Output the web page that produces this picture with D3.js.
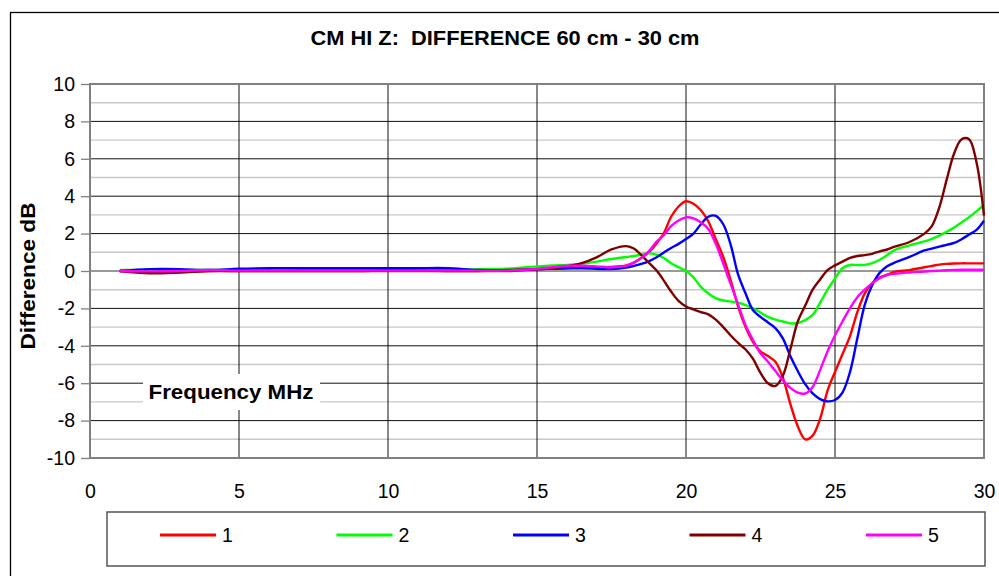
<!DOCTYPE html>
<html>
<head>
<meta charset="utf-8">
<script src="https://cdn.jsdelivr.net/npm/d3@7"></script>
<style>
  body { margin: 0; background: #fff; }
  svg { display: block; font-family: "Liberation Sans", Arial, sans-serif; }
</style>
</head>
<body>
<div id="chart"></div>
<script>
  // frequency points (MHz)
  const freq = [1,2,3,4,5,6,7,8,9,10,11,12,13,14,15,15.5,16,16.5,17,17.5,18,
    18.25,18.5,18.75,19,19.25,19.5,19.75,20,20.25,20.5,20.75,21,21.25,21.5,21.75,
    22,22.25,22.5,22.75,23,23.25,23.5,23.75,24,24.25,24.5,24.75,25,25.25,25.5,25.75,
    26,26.25,26.5,26.75,27,27.5,28,28.25,28.5,28.75,29,29.25,29.5,29.75,30];

  const s1 = [0,-0.08,-0.05,0,0,0,0,0,0,0,0,0,0,0,0.1,0.12,0.15,0.2,0.2,0.22,0.3,
    0.45,0.7,1.0,1.45,2.0,2.9,3.45,3.73,3.6,3.25,2.65,1.7,0.75,-0.5,-1.9,
    -3.0,-3.8,-4.3,-4.55,-4.85,-5.7,-7.1,-8.3,-9.0,-8.8,-7.9,-6.4,-5.4,-4.45,-3.5,-2.2,
    -1.2,-0.65,-0.35,-0.2,-0.05,0.05,0.2,0.27,0.34,0.38,0.4,0.41,0.41,0.41,0.41];

  const s2 = [0.05,0.05,0.05,0.05,0.05,0.05,0.05,0.05,0.05,0.05,0.05,0.05,0.1,0.12,0.25,0.3,0.33,0.38,0.5,0.64,0.75,
    0.8,0.88,0.94,0.88,0.7,0.42,0.2,0.0,-0.34,-0.85,-1.2,-1.45,-1.58,-1.63,-1.7,
    -1.82,-2.0,-2.22,-2.45,-2.6,-2.7,-2.8,-2.78,-2.63,-2.35,-1.7,-1.0,-0.4,0.15,0.32,0.32,
    0.33,0.42,0.6,0.85,1.12,1.37,1.58,1.72,1.89,2.1,2.33,2.6,2.88,3.2,3.53];

  const s3 = [0,0.1,0.1,0.05,0.12,0.15,0.15,0.15,0.15,0.15,0.15,0.15,0.05,0.03,0.1,0.12,0.14,0.14,0.12,0.1,0.18,
    0.27,0.38,0.52,0.72,0.98,1.23,1.45,1.71,2.0,2.5,2.9,2.95,2.5,1.4,-0.2,
    -1.2,-2.1,-2.45,-2.75,-3.05,-3.6,-4.55,-5.35,-6.05,-6.55,-6.85,-6.97,-6.9,-6.5,-5.42,-3.6,
    -1.8,-0.75,-0.1,0.25,0.45,0.75,1.1,1.2,1.3,1.4,1.5,1.7,1.95,2.2,2.69];

  const s4 = [0,-0.12,-0.08,0,0,0,0,0,0,0.03,0.02,0,0,0.05,0.1,0.15,0.25,0.42,0.73,1.15,1.33,
    1.2,0.85,0.45,0.05,-0.5,-1.1,-1.6,-1.9,-2.05,-2.2,-2.32,-2.6,-3.0,-3.45,-3.85,
    -4.2,-4.7,-5.45,-6.0,-6.15,-5.6,-4.2,-2.7,-1.85,-1.0,-0.45,0.05,0.3,0.5,0.7,0.8,
    0.85,0.92,1.05,1.15,1.3,1.55,2.0,2.4,3.4,4.9,6.3,7.05,7.05,5.8,2.96];

  const s5 = [0,-0.02,0,0.05,0.02,0.02,0.02,0.02,0.02,0.02,0.02,0.02,0.02,0.02,0.12,0.2,0.28,0.28,0.25,0.2,0.29,
    0.45,0.7,1.05,1.55,1.9,2.4,2.7,2.87,2.82,2.6,2.25,1.45,0.4,-0.7,-1.8,
    -2.9,-3.7,-4.4,-4.85,-5.35,-5.85,-6.25,-6.5,-6.55,-6.2,-5.3,-4.3,-3.45,-2.7,-2.0,-1.4,
    -1.0,-0.65,-0.38,-0.22,-0.15,-0.08,-0.03,0,0.02,0.04,0.06,0.07,0.07,0.07,0.07];

  const seriesNames = ["1","2","3","4","5"];
  const seriesColors = ["#ff0000","#00ff00","#0000ff","#800000","#ff00ff"];
  const seriesValues = [s1, s2, s3, s4, s5];

  const xTicks = [0,5,10,15,20,25,30];
  const yTicks = [-10,-8,-6,-4,-2,0,2,4,6,8,10];
  const yMinor = [-9,-7,-5,-3,-1,1,3,5,7,9];

  const width = 999, height = 576;
  const margin = { top: 84, right: 15, bottom: 118, left: 90 };
  const tickFont = 19.5;

  const svg = d3.select("#chart").append("svg")
    .attr("width", width)
    .attr("height", height);

  // outer chart frame (right and bottom fall outside the view)
  svg.append("rect")
    .attr("x", 10.5).attr("y", 12.5)
    .attr("width", 1020).attr("height", 600)
    .attr("fill", "none").attr("stroke", "#000").attr("stroke-width", 1.3);

  const x = d3.scaleLinear().domain([0, 30]).range([margin.left, width - margin.right]);
  const y = d3.scaleLinear().domain([-10, 10]).range([height - margin.bottom, margin.top]);

  // minor horizontal grid
  svg.append("g").selectAll("line").data(yMinor).join("line")
    .attr("x1", x(0)).attr("x2", x(30))
    .attr("y1", d => y(d)).attr("y2", d => y(d))
    .attr("stroke", "#c8c8c8").attr("stroke-width", 1.4);

  // major horizontal grid
  svg.append("g").selectAll("line").data(yTicks.filter(d => d > -10 && d < 10)).join("line")
    .attr("x1", x(0)).attr("x2", x(30))
    .attr("y1", d => y(d)).attr("y2", d => y(d))
    .attr("stroke", d => d === 0 ? "#777" : "#111").attr("stroke-width", d => d === 0 ? 1.6 : 1);

  // vertical grid
  svg.append("g").selectAll("line").data(xTicks.filter(d => d > 0 && d < 30)).join("line")
    .attr("x1", d => x(d)).attr("x2", d => x(d))
    .attr("y1", y(10)).attr("y2", y(-10))
    .attr("stroke", "#111").attr("stroke-width", 1);

  // plot frame
  svg.append("rect")
    .attr("x", x(0)).attr("y", y(10))
    .attr("width", x(30) - x(0)).attr("height", y(-10) - y(10))
    .attr("fill", "none").attr("stroke", "#808080").attr("stroke-width", 2);

  // y axis
  const yAxis = svg.append("g")
    .attr("transform", `translate(${x(0)},0)`)
    .call(d3.axisLeft(y).tickValues(yTicks).tickSize(9).tickPadding(6).tickFormat(d => String(d)));
  yAxis.select(".domain").remove();
  yAxis.selectAll(".tick line").attr("stroke", "#808080").attr("stroke-width", 1.3);
  yAxis.selectAll("text").attr("font-size", tickFont).attr("fill", "#000")
    .attr("font-family", "'Liberation Sans', Arial, sans-serif");

  // x axis
  const xAxis = svg.append("g")
    .attr("transform", `translate(0,${y(-10)})`)
    .call(d3.axisBottom(x).tickValues(xTicks).tickSize(0).tickPadding(26).tickFormat(d => String(d)));
  xAxis.select(".domain").remove();
  xAxis.selectAll("text").attr("font-size", tickFont).attr("fill", "#000")
    .attr("font-family", "'Liberation Sans', Arial, sans-serif");

  // series
  const line = d3.line()
    .x((d, i) => x(freq[i]))
    .y(d => y(d))
    .curve(d3.curveCatmullRom.alpha(0.5));

  svg.append("g").selectAll("path").data(seriesValues).join("path")
    .attr("d", d => line(d))
    .attr("fill", "none")
    .attr("stroke", (d, i) => seriesColors[i])
    .attr("stroke-width", 2.4)
    .attr("stroke-linejoin", "round");

  // title
  svg.append("text")
    .attr("x", 505).attr("y", 45)
    .attr("text-anchor", "middle")
    .attr("font-size", 20).attr("font-weight", "bold")
    .attr("textLength", 389).attr("lengthAdjust", "spacingAndGlyphs")
    .style("white-space", "pre")
    .text("CM HI Z:  DIFFERENCE 60 cm - 30 cm");

  // y axis title
  svg.append("text")
    .attr("transform", `translate(35,276) rotate(-90)`)
    .attr("text-anchor", "middle")
    .attr("font-size", 19.5).attr("font-weight", "bold")
    .attr("textLength", 147).attr("lengthAdjust", "spacingAndGlyphs")
    .text("Difference dB");

  // x axis title inside plot, on white box
  svg.append("rect")
    .attr("x", 143).attr("y", 374).attr("width", 177).attr("height", 36)
    .attr("fill", "#fff");
  svg.append("text")
    .attr("x", 231).attr("y", 399)
    .attr("text-anchor", "middle")
    .attr("font-size", 19.5).attr("font-weight", "bold")
    .attr("textLength", 165).attr("lengthAdjust", "spacingAndGlyphs")
    .text("Frequency MHz");

  // legend
  const legend = svg.append("g");
  legend.append("rect")
    .attr("x", 107).attr("y", 512).attr("width", 878).attr("height", 54)
    .attr("fill", "#fff").attr("stroke", "#555").attr("stroke-width", 1.5);

  const lx = d3.scalePoint().domain(seriesNames).range([160, 866]);
  const item = legend.selectAll("g.item").data(seriesNames).join("g")
    .attr("class", "item")
    .attr("transform", d => `translate(${lx(d)},535)`);
  item.append("line")
    .attr("x1", 0).attr("x2", 56).attr("y1", 0).attr("y2", 0)
    .attr("stroke", (d, i) => seriesColors[i]).attr("stroke-width", 3);
  item.append("text")
    .attr("x", 62).attr("y", 7)
    .attr("font-size", tickFont)
    .text(d => d);
</script>
</body>
</html>
